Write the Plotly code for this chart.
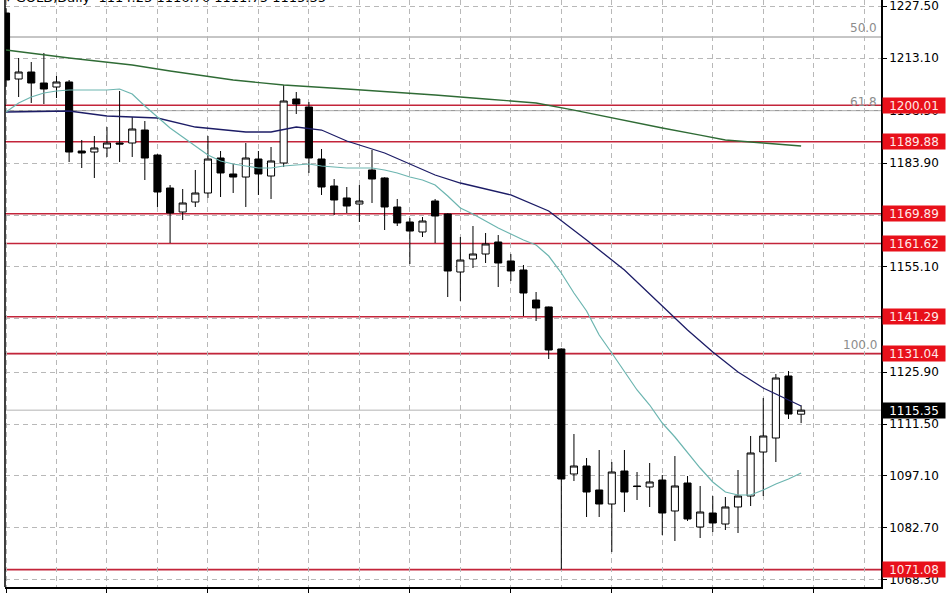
import plotly.graph_objects as go

# ---------------- data ----------------
bar_index = list(range(64))
opens = [1225.60, 1207.28, 1209.22, 1206.17, 1205.06, 1206.45, 1187.29, 1187.01, 1188.13, 1189.51,
         1189.51, 1193.12, 1186.18, 1177.02, 1170.36, 1173.13, 1175.63, 1185.35, 1180.91, 1180.07,
         1185.07, 1180.35, 1183.96, 1201.73, 1199.51, 1185.07, 1177.58, 1174.25, 1172.58, 1182.02,
         1179.80, 1171.75, 1167.58, 1164.81, 1173.41, 1169.80, 1153.70, 1157.31, 1158.70, 1162.03,
         1156.76, 1154.26, 1145.93, 1143.99, 1132.33, 1097.63, 1099.85, 1093.19, 1089.30, 1098.46,
         1094.30, 1094.02, 1095.96, 1087.36, 1095.13, 1082.91, 1086.80, 1083.75, 1088.47, 1091.52,
         1103.73, 1107.62, 1124.83, 1114.23]
highs = [1227.00, 1213.11, 1212.00, 1214.50, 1208.11, 1207.00, 1190.35, 1191.46, 1193.95, 1203.95,
         1196.73, 1195.62, 1186.40, 1177.85, 1176.74, 1182.02, 1191.46, 1187.29, 1183.68, 1189.51,
         1187.29, 1188.40, 1205.61, 1203.67, 1200.89, 1187.85, 1179.52, 1177.30, 1177.85, 1187.57,
         1180.00, 1173.97, 1168.69, 1168.97, 1173.97, 1170.00, 1163.42, 1166.47, 1164.53, 1163.97,
         1158.70, 1155.65, 1148.15, 1144.10, 1132.50, 1108.73, 1102.07, 1104.29, 1100.96, 1104.29,
         1098.18, 1100.68, 1097.35, 1102.62, 1097.07, 1094.30, 1091.52, 1091.24, 1098.74, 1108.18,
         1118.73, 1125.39, 1126.22, 1116.70]
lows = [1205.06, 1202.28, 1200.62, 1200.34, 1202.00, 1184.24, 1182.57, 1179.80, 1185.63, 1184.24,
        1185.63, 1179.24, 1171.75, 1161.75, 1168.14, 1171.75, 1174.25, 1174.52, 1175.63, 1171.75,
        1175.08, 1173.97, 1182.85, 1197.56, 1181.19, 1175.08, 1169.53, 1170.08, 1167.58, 1172.86,
        1165.36, 1166.47, 1155.92, 1163.42, 1161.75, 1146.76, 1145.65, 1154.81, 1156.20, 1149.54,
        1151.20, 1141.49, 1140.10, 1129.55, 1071.08, 1095.68, 1085.69, 1085.69, 1075.97, 1087.08,
        1090.41, 1088.47, 1080.69, 1079.03, 1084.58, 1079.86, 1081.53, 1082.08, 1081.25, 1088.74,
        1091.52, 1100.96, 1112.90, 1111.75]
closes = [1207.00, 1209.22, 1206.17, 1204.50, 1206.45, 1187.01, 1186.74, 1188.13, 1189.51, 1189.24,
          1193.40, 1185.35, 1175.91, 1170.08, 1172.86, 1175.63, 1185.07, 1181.19, 1180.07, 1185.35,
          1180.91, 1184.52, 1201.17, 1200.34, 1185.35, 1177.30, 1173.69, 1172.02, 1173.41, 1179.52,
          1171.75, 1167.31, 1165.08, 1167.86, 1169.25, 1153.98, 1157.03, 1158.70, 1161.48, 1156.20,
          1153.98, 1147.87, 1143.71, 1132.05, 1096.24, 1099.85, 1092.63, 1089.30, 1098.18, 1092.63,
          1094.15, 1095.41, 1086.80, 1094.30, 1085.14, 1087.08, 1084.03, 1088.47, 1091.52, 1103.46,
          1108.18, 1124.28, 1114.28, 1115.35]

# short moving average (teal)
ma_fast = [1198.12, 1200.62, 1202.28, 1203.39, 1203.95, 1204.23, 1204.23, 1204.23, 1204.23, 1204.50,
           1203.12, 1199.78, 1196.73, 1193.68, 1191.18, 1188.68, 1186.18, 1184.52, 1183.68, 1183.13,
           1182.57, 1182.57, 1183.13, 1183.41, 1183.68, 1183.13, 1182.85, 1182.57, 1182.57, 1182.57,
           1182.02, 1181.19, 1180.07, 1179.24, 1177.85, 1174.80, 1171.47, 1169.80, 1167.86, 1165.92,
           1164.25, 1162.59, 1161.20, 1158.14, 1153.43, 1147.87, 1142.88, 1136.21, 1131.21, 1125.94,
           1120.95, 1116.78, 1111.78, 1107.90, 1103.46, 1099.29, 1095.41, 1092.63, 1091.80, 1091.80,
           1093.19, 1094.85, 1096.24, 1097.90]
# medium moving average (navy)
ma_mid_idx = [0, 5, 8, 12, 15, 19, 21, 23, 25, 27, 30, 34, 36, 40, 43, 46, 49, 54, 56, 58, 60, 62, 63]
ma_mid = [1198.12, 1198.40, 1197.01, 1196.45, 1193.95, 1192.57, 1192.57, 1193.95, 1193.12, 1190.07,
          1186.74, 1180.63, 1178.41, 1175.08, 1170.64, 1162.59, 1154.26, 1137.60, 1131.49, 1125.94,
          1121.50, 1118.17, 1116.50]
# long moving average (green)
ma_slow_idx = [0, 5, 10, 13, 18, 22, 27, 31, 34, 38, 42, 45, 48, 52, 55, 57, 60, 63]
ma_slow = [1215.33, 1213.11, 1211.17, 1209.50, 1207.00, 1205.61, 1204.50, 1203.67, 1202.84, 1201.73,
           1200.62, 1198.67, 1196.45, 1193.68, 1191.73, 1190.35, 1189.51, 1188.68]

level_prices = [1200.01, 1189.88, 1169.89, 1161.62, 1141.29, 1131.04, 1071.08]
level_labels = ["1200.01", "1189.88", "1169.89", "1161.62", "1141.29", "1131.04", "1071.08"]

fib_names = ["50.0", "61.8", "100.0"]
fib_prices = [1218.94, 1198.50, 1131.04]

last_price = 1115.35
last_label = "1115.35"

y_ticks = [1068.30, 1082.70, 1097.10, 1111.50, 1125.90, 1140.70, 1155.10, 1169.50,
           1183.90, 1198.50, 1213.10, 1227.50]
y_tick_text = ["1068.30", "1082.70", "1097.10", "1111.50", "1125.90", "1140.70", "1155.10",
               "1169.50", "1183.90", "1198.50", "1213.10", "1227.50"]

header = "\u25be GOLD,Daily  1114.23 1116.70 1111.75 1115.35"

# ---------------- figure ----------------
RED = "#c3243a"
fig = go.Figure()

x_lo, x_hi = -0.08, 69.33
y_lo, y_hi = 1066.26, 1229.21

# fib lines (gray)
for p in fib_prices:
    fig.add_shape(type="line", xref="paper", x0=0, x1=1, yref="y", y0=p, y1=p,
                  line=dict(color="#8c8c8c", width=1), layer="below")
# current price line
fig.add_shape(type="line", xref="paper", x0=0, x1=1, yref="y", y0=last_price, y1=last_price,
              line=dict(color="#b4b4b4", width=1), layer="below")
# red horizontal levels
for p in level_prices:
    fig.add_shape(type="line", xref="paper", x0=0, x1=1, yref="y", y0=p, y1=p,
                  line=dict(color=RED, width=1.6), layer="below")

fig.add_trace(go.Scatter(x=ma_slow_idx, y=ma_slow, mode="lines",
                         line=dict(color="#2f6b35", width=1.3), hoverinfo="skip"))
fig.add_trace(go.Scatter(x=ma_mid_idx, y=ma_mid, mode="lines",
                         line=dict(color="#1c1c66", width=1.3), hoverinfo="skip"))
fig.add_trace(go.Scatter(x=bar_index, y=ma_fast, mode="lines",
                         line=dict(color="#6cb5b0", width=1.2), hoverinfo="skip"))

fig.add_trace(go.Candlestick(
    x=bar_index, open=opens, high=highs, low=lows, close=closes,
    increasing=dict(line=dict(color="black", width=1), fillcolor="white"),
    decreasing=dict(line=dict(color="black", width=1), fillcolor="black"),
    whiskerwidth=0,
))

# right-hand price labels
for p, t in zip(level_prices, level_labels):
    fig.add_annotation(xref="paper", x=1, xanchor="left", xshift=1, yref="y", y=p,
                       text=t, showarrow=False, bgcolor="#e8101a",
                       font=dict(family="DejaVu Sans", size=12, color="#ffe8e8"),
                       width=60, height=13, borderpad=1, align="center")
fig.add_annotation(xref="paper", x=1, xanchor="left", xshift=1, yref="y", y=last_price,
                   text=last_label, showarrow=False, bgcolor="#000000",
                   font=dict(family="DejaVu Sans", size=12, color="white"),
                   width=60, height=13, borderpad=1, align="center")

# fib level texts
for n, p in zip(fib_names, fib_prices):
    fig.add_annotation(xref="paper", x=1, xanchor="right", xshift=-2, yref="y", y=p,
                       yanchor="bottom", text=n, showarrow=False,
                       font=dict(family="DejaVu Sans", size=12, color="#8c8c8c"))

# header (cut off at the top like the original)
fig.add_annotation(xref="paper", x=0, xanchor="left", xshift=-2, yref="paper", y=1,
                   yanchor="bottom", yshift=-7, text=header, showarrow=False,
                   font=dict(family="DejaVu Sans", size=13, color="black"))

# left border
fig.add_shape(type="line", xref="paper", x0=0, x1=0, yref="paper", y0=0, y1=1,
              line=dict(color="black", width=1.5))

grid_col = "#b8b8b8"
fig.update_layout(
    width=948, height=593,
    margin=dict(l=5, r=67, t=0, b=6),
    paper_bgcolor="white", plot_bgcolor="white",
    showlegend=False, boxgap=0.25, boxgroupgap=0.25,
    font=dict(family="DejaVu Sans", size=12, color="black"),
    xaxis=dict(range=[x_lo, x_hi], rangeslider=dict(visible=False),
               tickmode="linear", tick0=0, dtick=8, showticklabels=False,
               ticks="outside", ticklen=5, tickcolor="black",
               showgrid=True, gridcolor=grid_col, griddash="5px,4px", gridwidth=1,
               minor=dict(tickmode="linear", tick0=0, dtick=4, showgrid=True,
                          gridcolor=grid_col, griddash="5px,4px", ticks=""),
               showline=True, linecolor="black", linewidth=1.5, zeroline=False),
    yaxis=dict(range=[y_lo, y_hi], side="right", tickmode="array",
               tickvals=y_ticks, ticktext=y_tick_text, ticklabeloverflow="allow",
               ticks="outside", ticklen=4, tickcolor="black",
               showgrid=True, gridcolor=grid_col, griddash="5px,4px", gridwidth=1,
               showline=True, linecolor="black", linewidth=1.5, zeroline=False,
               tickfont=dict(family="DejaVu Sans", size=12, color="black")),
)

fig.write_html("out.html", config={"displayModeBar": False},
               post_script="document.body.style.margin='0';document.body.style.overflow='hidden';")
